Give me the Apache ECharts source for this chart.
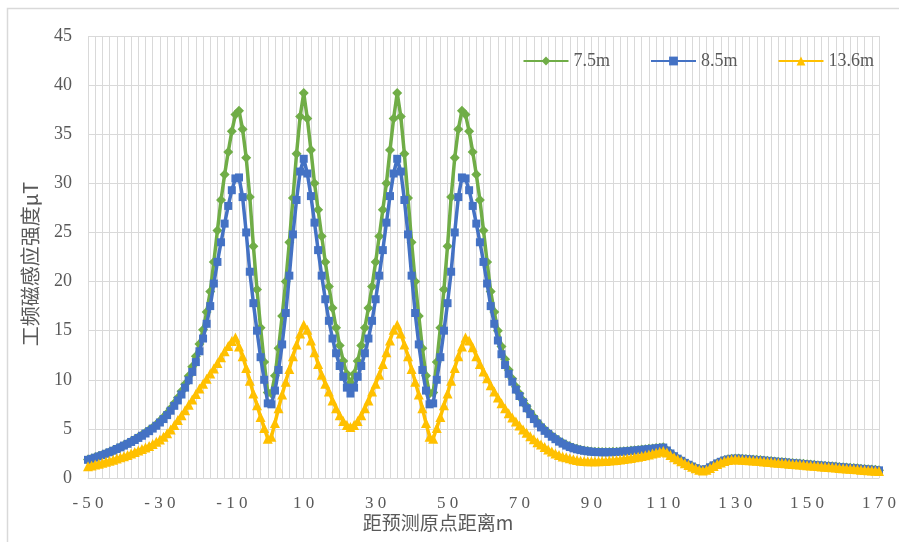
<!DOCTYPE html>
<html>
<head>
<meta charset="utf-8">
<script src="https://cdn.jsdelivr.net/npm/echarts@6/dist/echarts.min.js"></script>
<style>
  html, body { margin: 0; padding: 0; background: #ffffff; }
  #chart { width: 899px; height: 542px; }
</style>
</head>
<body>
<div id="chart"></div>
<script>
// Power-frequency magnetic flux density along the survey line, sampled every metre.
const DIST_START = -50;   // m, first sampling point
const DIST_STEP = 1;      // m between samples

const seriesNames = ['7.5m', '8.5m', '13.6m'];

// 7.5 m
const field75 = [
  1.88, 1.98, 2.1, 2.23, 2.36, 2.5, 2.65, 2.81, 2.98, 3.15,          // -50..-41
  3.33, 3.52, 3.72, 3.93, 4.15, 4.38, 4.62, 4.88, 5.15, 5.45,        // -40..-31
  5.8, 6.18, 6.6, 7.07, 7.6, 8.18, 8.82, 9.55, 10.38, 11.32,         // -30..-21
  12.4, 13.65, 15.1, 16.9, 19.0, 22.0, 25.2, 28.3, 30.9, 33.2,       // -20..-11
  35.3, 37.0, 37.4, 35.5, 32.6, 28.6, 23.6, 19.2, 15.3, 11.8,        // -10..-1
  8.7, 8.6, 10.4, 13.2, 16.5, 20.0, 24.0, 28.5, 33.0, 36.8,          // 0..9
  39.2, 36.6, 33.4, 30.0, 27.3, 24.6, 22.0, 19.5, 17.3, 15.3,        // 10..19
  13.5, 11.9, 10.6, 9.7, 10.6, 11.9, 13.5, 15.3, 17.3, 19.5,         // 20..29
  22.0, 24.6, 27.3, 30.0, 33.4, 36.6, 39.2, 36.8, 33.0, 28.5,        // 30..39
  24.0, 20.0, 16.5, 13.2, 10.4, 8.6, 8.7, 11.8, 15.3, 19.2,          // 40..49
  23.6, 28.6, 32.6, 35.5, 37.4, 37.0, 35.3, 33.2, 30.9, 28.3,        // 50..59
  25.2, 22.0, 19.0, 16.9, 15.0, 13.4, 12.1, 11.0, 10.1, 9.3,         // 60..69
  8.6, 7.9, 7.3, 6.7, 6.2, 5.7, 5.3, 4.95, 4.6, 4.3,                 // 70..79
  4.05, 3.8, 3.58, 3.38, 3.22, 3.08, 2.97, 2.88, 2.8, 2.74,          // 80..89
  2.7, 2.68, 2.66, 2.65, 2.65, 2.65, 2.66, 2.68, 2.7, 2.73,          // 90..99
  2.76, 2.79, 2.83, 2.86, 2.9, 2.93, 2.97, 3.01, 3.05, 3.09,         // 100..109
  3.13, 2.83, 2.52, 2.24, 1.99, 1.77, 1.56, 1.37, 1.19, 1.02,        // 110..119
  0.88, 0.82, 0.92, 1.11, 1.31, 1.51, 1.67, 1.81, 1.91, 1.97,        // 120..129
  1.99, 1.99, 1.97, 1.94, 1.91, 1.88, 1.85, 1.82, 1.79, 1.76,        // 130..139
  1.72, 1.69, 1.66, 1.63, 1.6, 1.56, 1.53, 1.5, 1.47, 1.44,          // 140..149
  1.4, 1.37, 1.34, 1.31, 1.28, 1.25, 1.22, 1.19, 1.16, 1.13,         // 150..159
  1.1, 1.07, 1.04, 1.01, 0.98, 0.95, 0.92, 0.89, 0.86, 0.83,         // 160..169
  0.8                                                                // 170
];

// 8.5 m
const field85 = [
  1.85, 1.95, 2.07, 2.2, 2.33, 2.47, 2.62, 2.78, 2.95, 3.12,         // -50..-41
  3.3, 3.48, 3.67, 3.87, 4.08, 4.3, 4.53, 4.77, 5.03, 5.32,          // -40..-31
  5.65, 6.0, 6.4, 6.85, 7.35, 7.9, 8.5, 9.2, 9.95, 10.8,             // -30..-21
  11.8, 12.9, 14.2, 15.7, 17.5, 19.8, 22.0, 24.0, 25.9, 27.7,        // -20..-11
  29.3, 30.5, 30.6, 28.6, 25.0, 21.0, 17.8, 15.0, 12.3, 10.0,        // -10..-1
  7.6, 7.5, 8.9, 11.0, 13.6, 16.8, 20.6, 24.8, 28.3, 31.2,           // 0..9
  32.5, 31.0, 28.7, 26.0, 23.2, 20.6, 18.2, 16.0, 14.2, 12.7,        // 10..19
  11.4, 10.3, 9.2, 8.6, 9.2, 10.3, 11.4, 12.7, 14.2, 16.0,           // 20..29
  18.2, 20.6, 23.2, 26.0, 28.7, 31.0, 32.5, 31.2, 28.3, 24.8,        // 30..39
  20.6, 16.8, 13.6, 11.0, 8.9, 7.5, 7.6, 10.0, 12.3, 15.0,           // 40..49
  17.8, 21.0, 25.0, 28.6, 30.6, 30.5, 29.3, 27.7, 25.9, 24.0,        // 50..59
  22.0, 19.8, 17.5, 15.7, 14.0, 12.6, 11.5, 10.6, 9.8, 9.0,          // 60..69
  8.35, 7.7, 7.1, 6.5, 6.0, 5.55, 5.15, 4.8, 4.5, 4.2,               // 70..79
  3.95, 3.7, 3.5, 3.3, 3.15, 3.02, 2.92, 2.84, 2.77, 2.72,           // 80..89
  2.68, 2.65, 2.63, 2.62, 2.62, 2.62, 2.63, 2.65, 2.67, 2.7,         // 90..99
  2.73, 2.76, 2.8, 2.83, 2.87, 2.9, 2.94, 2.98, 3.02, 3.06,          // 100..109
  3.1, 2.8, 2.5, 2.22, 1.97, 1.75, 1.54, 1.35, 1.17, 1.0,            // 110..119
  0.86, 0.8, 0.9, 1.09, 1.29, 1.49, 1.65, 1.79, 1.89, 1.95,          // 120..129
  1.97, 1.97, 1.95, 1.92, 1.89, 1.86, 1.83, 1.8, 1.77, 1.74,         // 130..139
  1.7, 1.67, 1.64, 1.61, 1.58, 1.54, 1.51, 1.48, 1.45, 1.42,         // 140..149
  1.38, 1.35, 1.32, 1.29, 1.26, 1.23, 1.2, 1.17, 1.14, 1.11,         // 150..159
  1.08, 1.05, 1.02, 0.99, 0.96, 0.93, 0.9, 0.87, 0.84, 0.81,         // 160..169
  0.78                                                               // 170
];

// 13.6 m
const field136 = [
  1.2, 1.28, 1.37, 1.46, 1.56, 1.66, 1.76, 1.87, 1.98, 2.1,          // -50..-41
  2.22, 2.35, 2.5, 2.65, 2.8, 2.95, 3.1, 3.27, 3.45, 3.68,           // -40..-31
  3.93, 4.2, 4.55, 4.95, 5.4, 5.9, 6.4, 6.9, 7.45, 8.0,              // -30..-21
  8.55, 9.1, 9.6, 10.1, 10.65, 11.15, 11.7, 12.3, 12.9, 13.45,       // -20..-11
  13.95, 14.3, 13.4, 12.4, 11.2, 9.9, 8.6, 7.4, 6.2, 5.1,            // -10..-1
  4.0, 4.2, 5.6, 7.1, 8.5, 9.8, 11.1, 12.4, 13.6, 14.7,              // 0..9
  15.6, 15.1, 14.0, 12.8, 11.6, 10.5, 9.6, 8.8, 7.9, 7.1,            // 10..19
  6.4, 5.8, 5.4, 5.2, 5.4, 5.8, 6.4, 7.1, 7.9, 8.8,                  // 20..29
  9.6, 10.5, 11.6, 12.8, 14.0, 15.1, 15.6, 14.7, 13.6, 12.4,         // 30..39
  11.1, 9.8, 8.5, 7.1, 5.6, 4.2, 4.0, 5.1, 6.2, 7.4,                 // 40..49
  8.6, 9.9, 11.2, 12.4, 13.4, 14.3, 14.0, 13.3, 12.4, 11.6,          // 50..59
  10.85, 10.15, 9.45, 8.8, 8.2, 7.6, 7.1, 6.6, 6.15, 5.75,           // 60..69
  5.35, 4.95, 4.6, 4.25, 3.95, 3.65, 3.4, 3.15, 2.9, 2.7,            // 70..79
  2.5, 2.35, 2.2, 2.1, 2.0, 1.9, 1.82, 1.76, 1.72, 1.7,              // 80..89
  1.7, 1.7, 1.71, 1.72, 1.74, 1.77, 1.8, 1.84, 1.88, 1.93,           // 90..99
  1.98, 2.04, 2.1, 2.17, 2.24, 2.32, 2.4, 2.49, 2.58, 2.67,          // 100..109
  2.75, 2.6, 2.35, 2.12, 1.9, 1.7, 1.5, 1.32, 1.14, 0.98,            // 110..119
  0.84, 0.76, 0.84, 1.02, 1.22, 1.42, 1.58, 1.72, 1.82, 1.88,        // 120..129
  1.9, 1.89, 1.87, 1.84, 1.81, 1.78, 1.75, 1.72, 1.69, 1.66,         // 130..139
  1.62, 1.59, 1.56, 1.53, 1.5, 1.46, 1.43, 1.4, 1.37, 1.34,          // 140..149
  1.3, 1.27, 1.24, 1.21, 1.18, 1.15, 1.12, 1.09, 1.06, 1.03,         // 150..159
  1.0, 0.97, 0.94, 0.91, 0.88, 0.85, 0.82, 0.79, 0.76, 0.73,         // 160..169
  0.7                                                                // 170
];

const xTickLabels = ['-50', '-30', '-10', '10', '30', '50', '70', '90', '110', '130', '150', '170'];
const yTickLabels = ['0', '5', '10', '15', '20', '25', '30', '35', '40', '45'];

const xAxisTitle = '距预测原点距离m';
const yAxisTitle = '工频磁感应强度μT';

const seriesColors = ['#70AD47', '#4472C4', '#FFC000'];
const seriesSymbols = ['diamond', 'rect', 'triangle'];
const seriesSymbolSizes = [10, 8, 10];

function toPairs(values) {
  return values.map((v, i) => [DIST_START + i * DIST_STEP, v]);
}

const serifFont = '"Liberation Serif", "Times New Roman", "Noto Sans CJK SC", serif';
const textGrey = '#595959';
const gridGrey = '#d9d9d9';

const chart = echarts.init(document.getElementById('chart'), null, { renderer: 'canvas' });

const values = [field75, field85, field136];

chart.setOption({
  backgroundColor: '#ffffff',
  animation: false,
  grid: { left: 88, right: 17, top: 36, bottom: 64, containLabel: false },
  legend: {
    right: 20,
    top: 47,
    itemWidth: 45,
    itemHeight: 11,
    itemGap: 40,
    textStyle: { fontFamily: serifFont, fontSize: 18, color: textGrey },
    data: seriesNames
  },
  xAxis: {
    type: 'value',
    min: -50,
    max: 170,
    interval: 2,
    axisLine: { show: true, lineStyle: { color: gridGrey, width: 1 } },
    axisTick: { show: false },
    splitLine: { show: true, lineStyle: { color: gridGrey, width: 1 } },
    axisLabel: {
      margin: 17,
      fontFamily: serifFont,
      fontSize: 17,
      color: textGrey,
      formatter: function (v) {
        const s = String(Math.round(v));
        return xTickLabels.indexOf(s) >= 0 ? s.split('').join(' ') : '';
      }
    }
  },
  yAxis: {
    type: 'value',
    min: 0,
    max: 45,
    interval: 5,
    axisLine: { show: false },
    axisTick: { show: false },
    splitLine: { show: true, lineStyle: { color: gridGrey, width: 1 } },
    axisLabel: {
      margin: 16,
      fontFamily: serifFont,
      fontSize: 18,
      color: textGrey,
      formatter: function (v) {
        const s = String(Math.round(v));
        return yTickLabels.indexOf(s) >= 0 ? s : '';
      }
    }
  },
  graphic: [
    {
      type: 'rect',
      silent: true,
      shape: { x: 7.5, y: 8.5, width: 905, height: 560 },
      style: { fill: 'none', stroke: '#d9d9d9', lineWidth: 1.5 }
    },
    {
      type: 'text',
      x: 438,
      y: 523,
      style: {
        text: xAxisTitle,
        font: '19px "Noto Sans CJK SC", sans-serif',
        fill: textGrey,
        textAlign: 'center',
        textVerticalAlign: 'middle'
      }
    },
    {
      type: 'text',
      x: 30,
      y: 264,
      rotation: Math.PI / 2,
      style: {
        text: yAxisTitle,
        font: '20px "Noto Sans CJK SC", sans-serif',
        fill: textGrey,
        textAlign: 'center',
        textVerticalAlign: 'middle'
      }
    }
  ],
  series: seriesNames.map((name, k) => ({
    name: name,
    type: 'line',
    data: toPairs(values[k]),
    showAllSymbol: true,
    symbol: seriesSymbols[k],
    symbolSize: seriesSymbolSizes[k],
    lineStyle: { color: seriesColors[k], width: 3.5 },
    itemStyle: { color: seriesColors[k] },
    z: 2 + k
  }))
});
</script>
</body>
</html>
